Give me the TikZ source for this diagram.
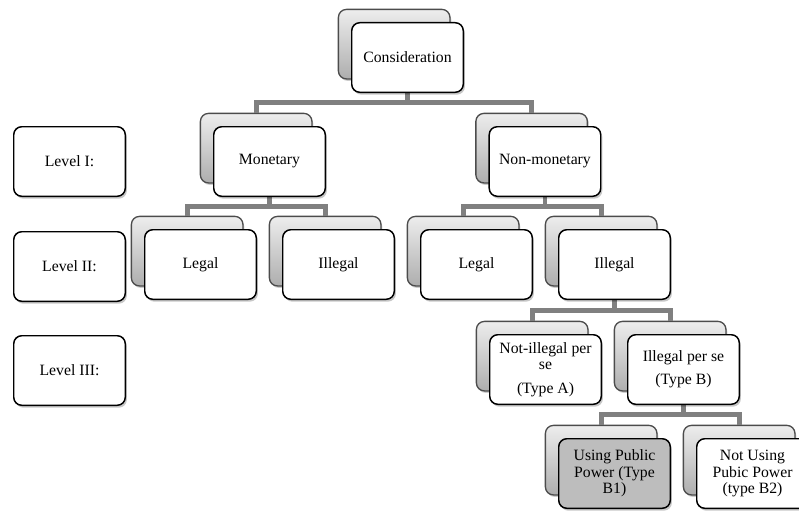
\documentclass[tikz,border=0pt]{standalone}
\usepackage{fontspec}
\setmainfont{Liberation Serif}
\usetikzlibrary{positioning, shadows, backgrounds, calc}

\tikzset{
  box/.style={draw=black, line width=1.1pt, rounded corners=6pt, fill=white,
    minimum width=83.65pt, minimum height=52.15pt, align=center, inner sep=1pt,
    font=\fontsize{11.8pt}{12.4pt}\selectfont,
    drop shadow={shadow xshift=1.2pt, shadow yshift=-1.8pt, opacity=.22, fill=black}},
  backbox/.style={draw=black!70, line width=1pt, rounded corners=6pt,
    top color=black!7, bottom color=black!32,
    minimum width=83.65pt, minimum height=52.15pt, inner sep=0pt,
    drop shadow={shadow xshift=1pt, shadow yshift=-1.5pt, opacity=.2, fill=black}},
  branch/.style={draw=gray, line width=3.6pt}
}

\begin{document}
\begin{tikzpicture}[x=0.75pt, y=0.75pt]
    \useasboundingbox (0,0) rectangle (799,512);

    \node[box] (cons) at (407.5,454.5) {Consideration};
    \node[box] (mon) [below=24.75pt of cons, xshift=-103.5pt] {Monetary};
    \node[box] (nonmon) [below=24.75pt of cons, xshift=103.1pt] {Non-monetary};

    \node[box] (legal1) [below=24pt of mon, xshift=-51.75pt] {Legal};
    \node[box] (illegal1) [right=18.75pt of legal1] {Illegal};
    \node[box] (legal2) [right=18.75pt of illegal1] {Legal};
    \node[box] (illegal2) [right=18.75pt of legal2] {Illegal};

    \node[box] (notill) [below=25.5pt of illegal2, xshift=-51.75pt] {Not-illegal per\\se\\[5pt](Type A)};
    \node[box] (illps) [right=18.75pt of notill] {Illegal per se\\[5pt](Type B)};

    \node[box, fill=black!26] (using) [below=24.75pt of illps, xshift=-51.75pt] {Using Public\\Power (Type\\B1)};
    \node[box] (notusing) [right=18.75pt of using] {Not Using\\Pubic Power\\(type B2)};

    % levels on the left
    \node[box] (lev1) [left=65.25pt of mon] {Level I:};
    \node[box] (lev2) [below=25.5pt of lev1] {Level II:};
    \node[box] (lev3) [below=24.75pt of lev2] {Level III:};

    \begin{pgfonlayer}{background}
        % the grey cards behind
        \foreach \n in {cons,mon,nonmon,legal1,illegal1,legal2,illegal2,notill,illps,using,notusing}
            \node[backbox] (\n-b) at ([shift={(-10pt,10pt)}]\n.center) {};

        % branches
        \foreach \p/\c in {cons/mon, cons/nonmon, mon/legal1, mon/illegal1,
                           nonmon/legal2, nonmon/illegal2, illegal2/notill,
                           illegal2/illps, illps/using, illps/notusing}
            \draw[branch] (\p.south) |- ($(\p.south)!.5!(\c-b.north)$) -| (\c-b.north);
    \end{pgfonlayer}
\end{tikzpicture}
\end{document}
